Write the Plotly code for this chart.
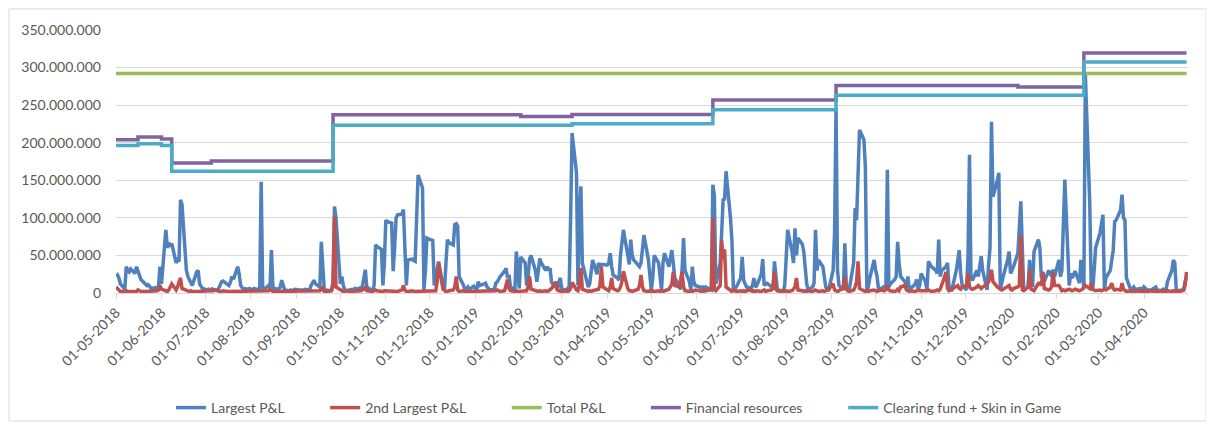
import pandas as pd
import plotly.graph_objects as go

M = 1_000_000

# ---------------- Largest P&L (millions, business days per month) ----------------
largest_2018_05 = [22, 24, 20, 12, 5, 35, 30, 28, 32, 26, 35, 30, 23, 18, 12, 10, 11, 8, 6, 7, 5, 9, 35]
largest_2018_06 = [12, 84, 60, 67, 62, 66, 40, 44, 42, 124, 118, 30, 22, 18, 14, 10, 28, 30, 12, 8, 6]
largest_2018_07 = [4, 5, 4, 5, 3, 4, 6, 10, 15, 16, 12, 10, 14, 22, 18, 35, 25, 10, 7, 6, 5, 6]
largest_2018_08 = [5, 4, 6, 5, 4, 148, 8, 5, 10, 6, 57, 8, 6, 5, 8, 17, 10, 4, 3, 4, 3, 4, 5]
largest_2018_09 = [4, 4, 3, 4, 5, 4, 10, 15, 17, 12, 8, 68, 40, 5, 4, 3, 5, 15, 115, 100]
largest_2018_10 = [12, 22, 10, 4, 3, 5, 5, 4, 6, 5, 7, 9, 20, 31, 8, 5, 3, 10, 64, 62, 58, 10, 40]
largest_2018_11 = [97, 95, 93, 29, 60, 100, 104, 105, 111, 40, 10, 44, 45, 43, 42, 100, 157, 140, 4, 30, 73, 72]
largest_2018_12 = [70, 10, 20, 35, 42, 8, 4, 40, 71, 67, 64, 91, 92, 89, 22, 10, 4, 5, 8, 5, 9]
largest_2019_01 = [6, 5, 15, 10, 12, 13, 8, 6, 4, 5, 13, 15, 20, 22, 29, 33, 20, 24, 8, 4, 55, 30, 6]
largest_2019_02 = [48, 40, 10, 20, 45, 50, 30, 15, 30, 46, 40, 30, 35, 30, 33, 14, 8, 4, 15, 20]
largest_2019_03 = [5, 4, 6, 8, 100, 213, 160, 10, 100, 142, 40, 12, 8, 12, 30, 44, 25, 40, 35, 38, 38]
largest_2019_04 = [37, 40, 53, 35, 24, 20, 17, 50, 70, 84, 50, 38, 71, 50, 44, 38, 35, 40, 65, 77, 45, 25]
largest_2019_05 = [4, 20, 50, 40, 25, 4, 40, 53, 35, 45, 57, 40, 20, 10, 5, 30, 73, 30, 15, 4, 35, 15, 10]
largest_2019_06 = [8, 7, 8, 6, 8, 5, 4, 144, 130, 12, 40, 80, 124, 125, 162, 100, 70, 5, 4, 8]
largest_2019_07 = [20, 48, 17, 12, 8, 6, 10, 20, 8, 10, 25, 45, 10, 12, 13, 8, 4, 42, 15, 4, 3, 2, 10]
largest_2019_08 = [45, 84, 55, 40, 86, 50, 73, 65, 55, 26, 12, 4, 8, 13, 84, 30, 44, 35, 20, 8, 4, 4]
largest_2019_09 = [30, 80, 246, 30, 10, 4, 66, 8, 4, 5, 40, 113, 97, 150, 217, 204, 168, 4, 8, 20, 44]
largest_2019_10 = [30, 22, 4, 5, 8, 10, 164, 8, 12, 18, 22, 68, 40, 22, 15, 8, 22, 4, 6, 12, 18, 4, 10]
largest_2019_11 = [26, 15, 4, 42, 38, 35, 30, 26, 71, 22, 30, 35, 40, 10, 4, 4, 30, 44, 57, 26, 10]
largest_2019_12 = [4, 50, 184, 20, 17, 30, 22, 40, 49, 30, 4, 37, 60, 228, 128, 150, 160, 4, 15, 22, 44, 55]
largest_2020_01 = [26, 30, 35, 53, 80, 122, 60, 4, 8, 44, 20, 8, 55, 71, 60, 20, 28, 15, 30, 25, 22, 31, 22]
largest_2020_02 = [44, 22, 30, 100, 151, 10, 26, 20, 25, 29, 13, 44, 30, 5, 290, 120, 8, 4, 30, 60]
largest_2020_03 = [80, 95, 104, 4, 20, 30, 45, 57, 95, 97, 110, 131, 100, 97, 20, 4, 6, 8, 4, 5, 6, 4]
largest_2020_04 = [8, 5, 4, 4, 5, 6, 8, 4, 3, 5, 4, 4, 15, 30, 44, 40, 4, 3, 4, 4, 15, 20]

# ---------------- 2nd Largest P&L (millions) ----------------
second_2018_05 = [8, 6, 3, 2, 2, 3, 2, 2, 3, 2, 2, 4, 3, 2, 2, 2, 3, 2, 2, 2, 3, 4, 10]
second_2018_06 = [5, 3, 2, 4, 8, 12, 4, 8, 15, 20, 6, 3, 2, 2, 3, 2, 2, 2, 3, 2, 2]
second_2018_07 = [2, 3, 2, 3, 5, 3, 2, 2, 2, 3, 2, 2, 3, 2, 2, 3, 2, 2, 2, 3, 2, 2]
second_2018_08 = [2, 2, 3, 2, 2, 3, 2, 2, 3, 5, 3, 2, 2, 2, 3, 2, 2, 3, 2, 2, 3, 2, 2]
second_2018_09 = [2, 2, 3, 2, 2, 3, 2, 2, 3, 2, 3, 8, 4, 2, 2, 2, 3, 10, 102, 8]
second_2018_10 = [4, 3, 2, 2, 3, 2, 2, 3, 2, 2, 3, 4, 5, 7, 3, 2, 2, 3, 4, 3, 2, 2, 3]
second_2018_11 = [3, 2, 2, 3, 2, 3, 2, 4, 10, 4, 2, 2, 3, 2, 2, 3, 2, 2, 3, 2, 2, 3]
second_2018_12 = [2, 3, 3, 15, 40, 5, 3, 2, 2, 3, 4, 8, 22, 4, 2, 3, 2, 2, 3, 2, 2]
second_2019_01 = [2, 3, 2, 2, 3, 2, 2, 3, 2, 2, 3, 4, 3, 2, 3, 10, 18, 6, 3, 2, 3, 2, 2]
second_2019_02 = [3, 2, 3, 8, 22, 5, 3, 2, 2, 3, 2, 3, 2, 3, 4, 6, 15, 4, 3, 2]
second_2019_03 = [2, 3, 2, 3, 6, 14, 4, 3, 10, 33, 5, 3, 2, 3, 2, 3, 4, 5, 10, 35, 8]
second_2019_04 = [5, 3, 8, 20, 6, 3, 4, 8, 15, 29, 6, 3, 3, 2, 3, 5, 10, 24, 8, 3, 2, 3]
second_2019_05 = [2, 3, 2, 3, 2, 3, 2, 3, 5, 8, 12, 28, 10, 8, 20, 28, 8, 3, 2, 3, 2, 3, 4]
second_2019_06 = [3, 2, 3, 2, 3, 4, 8, 100, 4, 3, 10, 70, 45, 58, 8, 3, 2, 4, 3, 2]
second_2019_07 = [3, 2, 3, 2, 3, 4, 2, 3, 2, 3, 2, 3, 4, 2, 3, 4, 8, 28, 5, 3, 2, 3, 2]
second_2019_08 = [3, 2, 3, 5, 8, 20, 4, 3, 2, 3, 2, 3, 2, 3, 4, 3, 2, 3, 2, 3, 4, 5]
second_2019_09 = [12, 4, 3, 2, 3, 8, 22, 5, 3, 2, 4, 8, 15, 42, 6, 3, 2, 3, 2, 3, 4]
second_2019_10 = [3, 2, 3, 4, 3, 5, 10, 4, 3, 2, 3, 5, 3, 8, 10, 4, 3, 2, 3, 2, 3, 4, 3]
second_2019_11 = [3, 2, 3, 4, 3, 2, 3, 4, 3, 5, 10, 28, 6, 3, 4, 5, 8, 10, 6, 5, 8]
second_2019_12 = [10, 26, 8, 6, 5, 8, 10, 8, 6, 8, 12, 15, 20, 31, 15, 8, 6, 5, 4, 5, 8, 10]
second_2020_01 = [5, 4, 6, 8, 10, 77, 4, 3, 8, 31, 5, 4, 3, 13, 13, 10, 28, 6, 4, 5, 8, 28, 10]
second_2020_02 = [10, 5, 3, 4, 3, 5, 4, 3, 4, 5, 3, 4, 5, 8, 10, 6, 13, 5, 4, 3]
second_2020_03 = [4, 3, 4, 5, 4, 8, 13, 6, 4, 5, 4, 13, 5, 3, 2, 3, 2, 3, 2, 3, 2, 3]
second_2020_04 = [2, 3, 2, 3, 2, 2, 3, 2, 3, 2, 3, 2, 3, 2, 3, 2, 3, 2, 3, 4, 10, 28]

largest_months = [largest_2018_05, largest_2018_06, largest_2018_07, largest_2018_08,
                  largest_2018_09, largest_2018_10, largest_2018_11, largest_2018_12,
                  largest_2019_01, largest_2019_02, largest_2019_03, largest_2019_04,
                  largest_2019_05, largest_2019_06, largest_2019_07, largest_2019_08,
                  largest_2019_09, largest_2019_10, largest_2019_11, largest_2019_12,
                  largest_2020_01, largest_2020_02, largest_2020_03, largest_2020_04]
second_months = [second_2018_05, second_2018_06, second_2018_07, second_2018_08,
                 second_2018_09, second_2018_10, second_2018_11, second_2018_12,
                 second_2019_01, second_2019_02, second_2019_03, second_2019_04,
                 second_2019_05, second_2019_06, second_2019_07, second_2019_08,
                 second_2019_09, second_2019_10, second_2019_11, second_2019_12,
                 second_2020_01, second_2020_02, second_2020_03, second_2020_04]

# ---------------- Step series (millions) ----------------
total_pl_dates = ["2018-05-01", "2020-04-30"]
total_pl_values = [292, 292]

fin_res_dates = ["2018-05-01", "2018-05-16", "2018-06-01", "2018-06-08", "2018-07-05",
                 "2018-09-26", "2019-02-01", "2019-03-08", "2019-06-12", "2019-09-04",
                 "2020-01-06", "2020-02-20", "2020-04-30"]
fin_res_values = [204, 207.5, 205, 173, 175.5, 237.3, 235, 237.5, 257, 276, 274, 319.5, 319.5]

cf_dates = ["2018-05-01", "2018-05-16", "2018-06-01", "2018-06-08", "2018-09-26",
            "2019-03-08", "2019-06-12", "2019-09-04", "2020-02-20", "2020-04-30"]
cf_values = [196.4, 198.5, 196.4, 162, 223.3, 225.3, 244, 263, 307.5, 307.5]

# x-axis tick labels (monthly)
tick_dates = pd.date_range("2018-05-01", "2020-04-01", freq="MS")

# ---------------- Build daily series ----------------
month_starts = pd.date_range("2018-05-01", "2020-04-01", freq="MS")
daily_dates, largest_vals, second_vals = [], [], []
for ms, lv, sv in zip(month_starts, largest_months, second_months):
    days = pd.bdate_range(ms, ms + pd.offsets.MonthEnd(0))
    assert len(days) == len(lv) == len(sv), (ms, len(days), len(lv), len(sv))
    daily_dates.extend(days)
    largest_vals.extend(v * M for v in lv)
    second_vals.extend(v * M for v in sv)

BLUE = "#4F81BD"
RED = "#C0504D"
GREEN = "#9BBB59"
PURPLE = "#8064A2"
AQUA = "#4BACC6"
FONT = "Lato, Liberation Sans, sans-serif"
TXT = "#595959"
PAD = "\u00a0" * 10
LW = 3.5

fig = go.Figure()
fig.add_trace(go.Scatter(x=daily_dates, y=largest_vals, mode="lines", name="Largest P&L" + PAD,
                         line=dict(color=BLUE, width=LW)))
fig.add_trace(go.Scatter(x=daily_dates, y=second_vals, mode="lines", name="2nd Largest P&L" + PAD,
                         line=dict(color=RED, width=LW)))
fig.add_trace(go.Scatter(x=total_pl_dates, y=[v * M for v in total_pl_values], mode="lines",
                         name="Total P&L" + PAD, line=dict(color=GREEN, width=LW)))
fig.add_trace(go.Scatter(x=fin_res_dates, y=[v * M for v in fin_res_values], mode="lines",
                         name="Financial resources" + PAD,
                         line=dict(color=PURPLE, width=LW, shape="hv")))
fig.add_trace(go.Scatter(x=cf_dates, y=[v * M for v in cf_values], mode="lines",
                         name="Clearing fund + Skin in Game",
                         line=dict(color=AQUA, width=LW, shape="hv")))

OFF = 8  # page body margin
W, H = 1198, 414
L, T = 116 - OFF, 30 - OFF
R = W - (1188 - OFF)
B = H - (293 - OFF)
pw, ph = W - L - R, H - T - B


def px_x(page_x):
    return (page_x - OFF - L) / pw


def px_y(page_y):
    return (H - B - (page_y - OFF)) / ph


fig.update_layout(
    width=W, height=H,
    margin=dict(l=L, r=R, t=T, b=B, pad=0, autoexpand=False),
    paper_bgcolor="white", plot_bgcolor="white",
    separators=",.",
    font=dict(family=FONT, size=14, color=TXT),
    showlegend=True,
    legend=dict(orientation="h", xref="container", yref="container",
                x=(619 - OFF) / W, xanchor="center",
                y=(H - (408 - OFF)) / H, yanchor="middle",
                font=dict(family=FONT, size=14, color=TXT),
                bgcolor="rgba(0,0,0,0)"),
    xaxis=dict(type="date", range=["2018-05-01", "2020-05-01"], automargin=False,
               tickvals=list(tick_dates), tickformat="%d-%m-%Y", tickangle=-45,
               showgrid=False, zeroline=False, showline=True, linecolor="#D9D9D9", linewidth=1,
               ticks="outside", ticklen=5, tickcolor="#D9D9D9",
               tickfont=dict(family=FONT, size=14, color=TXT)),
    yaxis=dict(range=[0, 350 * M], dtick=50 * M, tickformat=",d", automargin=False,
               showgrid=True, gridcolor="#D9D9D9", gridwidth=1, zeroline=False,
               showline=False, ticks="", ticklabelstandoff=14,
               tickfont=dict(family=FONT, size=14, color=TXT)),
    shapes=[
        dict(type="rect", xref="paper", yref="paper",
             x0=px_x(9), x1=px_x(1206), y0=px_y(421), y1=px_y(9),
             line=dict(color="#D9D9D9", width=1), fillcolor="rgba(0,0,0,0)", layer="below"),
        dict(type="line", xref="x", yref="paper", x0="2020-05-01", x1="2020-05-01",
             y0=0, y1=-5 / ph, line=dict(color="#D9D9D9", width=1)),
    ],
)

fig.write_html("out.html")
